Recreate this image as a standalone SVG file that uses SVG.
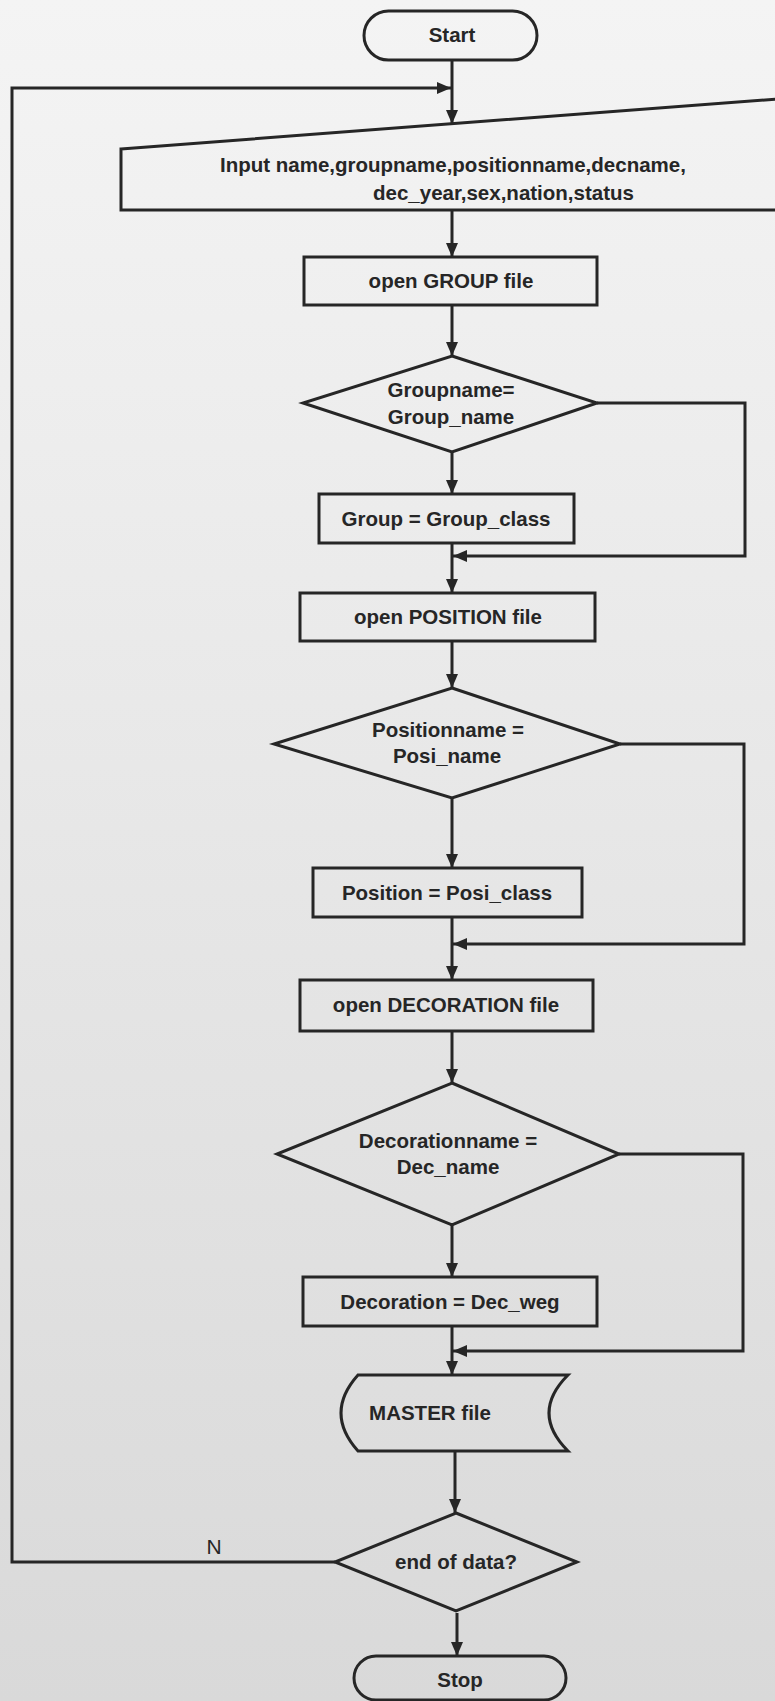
<svg xmlns="http://www.w3.org/2000/svg" width="775" height="1701" viewBox="0 0 775 1701">
<defs>
<linearGradient id="bg" x1="0" y1="0" x2="0" y2="1">
<stop offset="0" stop-color="#f4f4f4"/>
<stop offset="0.45" stop-color="#e8e8e8"/>
<stop offset="1" stop-color="#d9d9d9"/>
</linearGradient>
<marker id="ah" viewBox="0 0 14 12" refX="14" refY="6" markerWidth="14" markerHeight="12" markerUnits="userSpaceOnUse" orient="auto">
<path d="M0,0 L14,6 L0,12 z" fill="#262626"/>
</marker>
</defs>
<style>
.s{fill:none;stroke:#262626;stroke-width:3;stroke-linejoin:miter}
.c{fill:none;stroke:#262626;stroke-width:3}
.t{font-family:"Liberation Sans",Arial,sans-serif;font-weight:bold;font-size:20.5px;fill:#262626;text-anchor:middle}
.l{font-family:"Liberation Sans",Arial,sans-serif;font-weight:bold;font-size:20.5px;fill:#262626}
.n{font-family:"Liberation Sans",Arial,sans-serif;font-size:21px;fill:#262626;text-anchor:middle}
</style>
<rect x="0" y="0" width="775" height="1701" fill="url(#bg)"/>

<g id="connectors">
<line class="c" x1="452" y1="60" x2="452" y2="124" marker-end="url(#ah)"/>
<polyline class="c" points="335,1562 12,1562 12,88 451,88" marker-end="url(#ah)"/>
<line class="c" x1="452" y1="210" x2="452" y2="257" marker-end="url(#ah)"/>
<line class="c" x1="452" y1="305" x2="452" y2="356" marker-end="url(#ah)"/>
<line class="c" x1="452" y1="452" x2="452" y2="494" marker-end="url(#ah)"/>
<polyline class="c" points="597,403 745,403 745,556 453,556" marker-end="url(#ah)"/>
<line class="c" x1="452" y1="543" x2="452" y2="593" marker-end="url(#ah)"/>
<line class="c" x1="452" y1="641" x2="452" y2="688" marker-end="url(#ah)"/>
<line class="c" x1="452" y1="798" x2="452" y2="868" marker-end="url(#ah)"/>
<polyline class="c" points="620,744 744,744 744,944 453,944" marker-end="url(#ah)"/>
<line class="c" x1="452" y1="917" x2="452" y2="980" marker-end="url(#ah)"/>
<line class="c" x1="452" y1="1031" x2="452" y2="1083" marker-end="url(#ah)"/>
<line class="c" x1="452" y1="1225" x2="452" y2="1277" marker-end="url(#ah)"/>
<polyline class="c" points="619,1154 743,1154 743,1351 453,1351" marker-end="url(#ah)"/>
<line class="c" x1="452" y1="1326" x2="452" y2="1375" marker-end="url(#ah)"/>
<line class="c" x1="455" y1="1451" x2="455" y2="1513" marker-end="url(#ah)"/>
<line class="c" x1="457" y1="1613" x2="457" y2="1656" marker-end="url(#ah)"/>
<text class="n" x="214" y="1554">N</text>
</g>

<g id="start">
<rect class="s" x="364" y="11" width="173" height="49" rx="24.5"/>
<text class="t" x="452" y="42">Start</text>
</g>

<g id="input">
<polygon class="s" points="121,149 790,98 790,210 121,210"/>
<text class="l" x="220" y="172">Input name,groupname,positionname,decname,</text>
<text class="l" x="373" y="200">dec_year,sex,nation,status</text>
</g>

<g id="open-group">
<rect class="s" x="304" y="257" width="293" height="48"/>
<text class="t" x="451" y="288">open GROUP file</text>
</g>

<g id="dec-group">
<polygon class="s" points="452,356 597,403 452,452 303,403"/>
<text class="t" x="451" y="397">Groupname=</text>
<text class="t" x="451" y="424">Group_name</text>
</g>

<g id="set-group">
<rect class="s" x="319" y="494" width="255" height="49"/>
<text class="t" x="446" y="526">Group = Group_class</text>
</g>

<g id="open-position">
<rect class="s" x="300" y="593" width="295" height="48"/>
<text class="t" x="448" y="624">open POSITION file</text>
</g>

<g id="dec-position">
<polygon class="s" points="452,688 620,744 452,798 274,744"/>
<text class="t" x="448" y="737">Positionname =</text>
<text class="t" x="447" y="763">Posi_name</text>
</g>

<g id="set-position">
<rect class="s" x="313" y="868" width="269" height="49"/>
<text class="t" x="447" y="900">Position = Posi_class</text>
</g>

<g id="open-decoration">
<rect class="s" x="300" y="980" width="293" height="51"/>
<text class="t" x="446" y="1012">open DECORATION file</text>
</g>

<g id="dec-decoration">
<polygon class="s" points="452,1083 619,1154 452,1225 277,1154"/>
<text class="t" x="448" y="1148">Decorationname =</text>
<text class="t" x="448" y="1174">Dec_name</text>
</g>

<g id="set-decoration">
<rect class="s" x="303" y="1277" width="294" height="49"/>
<text class="t" x="450" y="1309">Decoration = Dec_weg</text>
</g>

<g id="master">
<path class="s" d="M358,1375 L568,1375 Q530,1413 568,1451 L358,1451 Q324,1413 358,1375 Z"/>
<text class="t" x="430" y="1420">MASTER file</text>
</g>

<g id="end-data">
<polygon class="s" points="456,1513 577,1562 456,1611 335,1562"/>
<text class="t" x="456" y="1569">end of data?</text>
</g>

<g id="stop">
<rect class="s" x="354" y="1656" width="212" height="44" rx="22"/>
<text class="t" x="460" y="1687">Stop</text>
</g>
</svg>
